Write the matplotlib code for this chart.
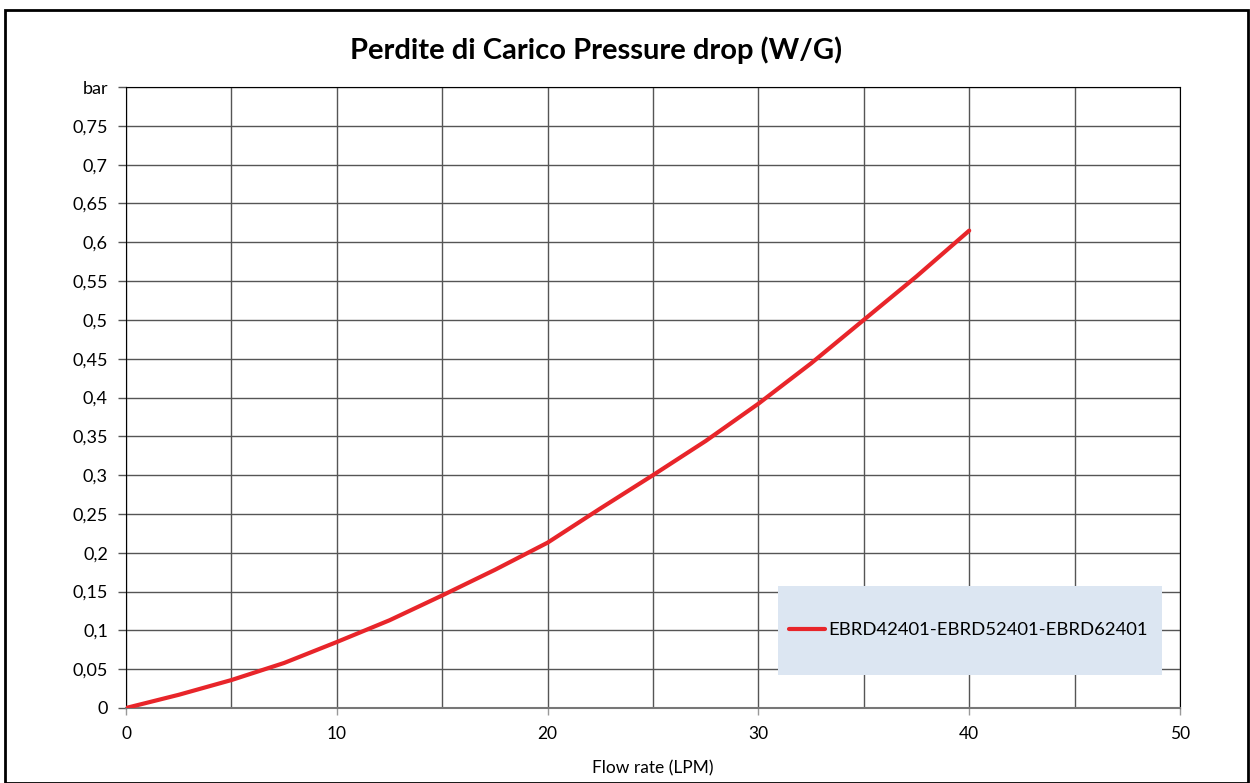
import numpy as np
import matplotlib.pyplot as plt
from matplotlib.patches import Rectangle

plt.rcParams['font.family'] = ['Lato', 'DejaVu Sans']

# pressure drop curve
flow = [0, 2.5, 5, 7.5, 10, 12.5, 15, 17.5, 20, 22.5, 25, 27.5, 30, 32.5, 35, 37.5, 40]
drop = [0, 0.017, 0.036, 0.058, 0.085, 0.113, 0.145, 0.178, 0.213, 0.257, 0.300,
        0.344, 0.392, 0.444, 0.500, 0.556, 0.615]
series_name = 'EBRD42401-EBRD52401-EBRD62401'
title = 'Perdite di Carico Pressure drop (W/G)'
xlabel = 'Flow rate (LPM)'
y_ticks = np.arange(0, 0.8001, 0.05)
x_ticks = [0, 10, 20, 30, 40, 50]


def comma(v):
    s = ('%.2f' % v).rstrip('0').rstrip('.')
    return s.replace('.', ',')


y_labels = [comma(v) for v in y_ticks[:-1]] + ['bar']

fig = plt.figure(figsize=(12.5, 7.83), dpi=100)
ax = fig.add_axes([126 / 1250, 1 - 708 / 783, (1180 - 126) / 1250, (708 - 87) / 783])

ax.plot(flow, drop, color='#e8252a', lw=3, solid_capstyle='round', label=series_name, zorder=3)

ax.set_xlim(0, 50)
ax.set_ylim(0, 0.8)
ax.set_xticks(x_ticks)
ax.set_xticks(np.arange(0, 51, 5), minor=True)
ax.set_yticks(y_ticks)
ax.set_yticklabels(y_labels)
ax.grid(True, which='both', color='#555555', lw=1)
ax.tick_params(axis='y', length=6, width=1, color='#555555', labelsize=13, pad=7)
ax.tick_params(axis='x', length=5, width=1, color='#999999', labelsize=12.5, pad=8)
ax.tick_params(axis='x', which='minor', length=0)
for s in ['top', 'right', 'left']:
    ax.spines[s].set_color('black')
ax.spines['bottom'].set_color('#777777')
ax.spines['bottom'].set_linewidth(1.5)

ax.set_xlabel(xlabel, fontsize=12.5)
ax.xaxis.set_label_coords(0.5, -(768 - 708) / 621)
ax.xaxis.label.set_va('center')
fig.text(596 / 1250, 1 - 50 / 783, title, ha='center', va='center', fontsize=21, fontweight='bold')

# legend box
ax.add_patch(Rectangle(((778 - 126) / 1054, (708 - 675) / 621), (1162 - 778) / 1054, (675 - 586) / 621,
                       transform=ax.transAxes, facecolor='#dce6f2', edgecolor='none', zorder=4))
leg = ax.legend(loc='center left', bbox_to_anchor=((789 - 126) / 1054, (708 - 630) / 621),
                frameon=False, fontsize=13.3, handlelength=1.95, handletextpad=0.15,
                borderaxespad=0, borderpad=0)
leg.set_zorder(5)

fig.patches.append(Rectangle((5 / 1250, 0), 1243 / 1250, 1 - 10 / 783, transform=fig.transFigure,
                             fill=False, edgecolor='black', lw=2))

fig.savefig('out.png', dpi=100)
